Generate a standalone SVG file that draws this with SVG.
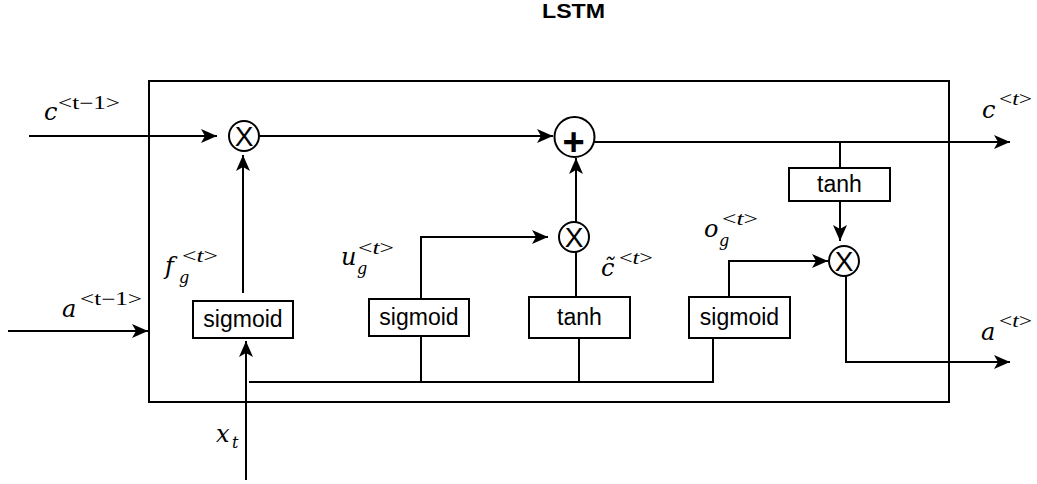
<svg xmlns="http://www.w3.org/2000/svg" width="1037" height="484" viewBox="0 0 1037 484">
  <defs>
    <marker id="arrow" markerUnits="userSpaceOnUse" markerWidth="20" markerHeight="18" viewBox="-17 -9 18 18" refX="0" refY="0" orient="auto">
      <path d="M0,0 L-16,-7 L-12,0 L-16,7 Z" fill="#000"/>
    </marker>
    <style>
      .wire { fill: none; stroke: #000; stroke-width: 2; }
      .arr { marker-end: url(#arrow); }
      .box { fill: #fff; stroke: #000; stroke-width: 2; }
      .op { fill: #fff; stroke: #000; stroke-width: 2; }
      .lbl { font-family: "Liberation Sans", Arial, sans-serif; font-size: 23px; fill: #000; text-anchor: middle; }
      .sym { font-family: "Liberation Sans", Arial, sans-serif; fill: #000; text-anchor: middle; }
      .math { font-family: "DejaVu Serif", "Liberation Serif", serif; font-style: italic; font-size: 24px; fill: #000; }
      .sup { font-family: "Liberation Serif", "Times New Roman", serif; font-style: normal; font-size: 18px; fill: #000; }
      .sub { font-family: "DejaVu Serif", "Liberation Serif", serif; font-style: italic; font-size: 16px; fill: #000; }
      .title { font-family: "Liberation Sans", Arial, sans-serif; font-weight: bold; font-size: 20px; fill: #000; text-anchor: middle; }
    </style>
  </defs>

  <rect width="1037" height="484" fill="#fff"/>

  <text class="title" x="573.5" y="18" textLength="63" lengthAdjust="spacingAndGlyphs">LSTM</text>

  <!-- cell boundary -->
  <rect id="cell" x="149" y="81" width="800" height="321" fill="none" stroke="#000" stroke-width="2"/>

  <!-- connectors -->
  <g id="connectors">
    <path class="wire arr" d="M29,136 L217,136"/>
    <path class="wire arr" d="M8,331 L148,331"/>
    <path class="wire arr" d="M243,293 L243,155"/>
    <path class="wire arr" d="M259,136 L553,136"/>
    <path class="wire arr" d="M594,142 L1010,142"/>
    <path class="wire" d="M840,142 L840,168"/>
    <path class="wire arr" d="M840,201 L840,241"/>
    <path class="wire arr" d="M576,222 L576,158"/>
    <path class="wire arr" d="M421,299 L421,237 L548,237"/>
    <path class="wire" d="M576,297 L576,252"/>
    <path class="wire arr" d="M729,297 L729,261 L828,261"/>
    <path class="wire arr" d="M846,276 L846,362 L1010,362"/>
    <path class="wire arr" d="M246,480 L246,341"/>
    <path class="wire" d="M249,382 L713,382 L713,338"/>
    <path class="wire" d="M421,336 L421,382"/>
    <path class="wire" d="M579,338 L579,382"/>
  </g>

  <!-- gates -->
  <g id="forget-sigmoid">
    <rect class="box" x="193" y="301" width="100" height="37"/>
    <text class="lbl" x="243" y="327">sigmoid</text>
  </g>
  <g id="update-sigmoid">
    <rect class="box" x="369" y="299" width="100" height="37"/>
    <text class="lbl" x="419" y="325">sigmoid</text>
  </g>
  <g id="candidate-tanh">
    <rect class="box" x="529" y="297" width="101" height="41"/>
    <text class="lbl" x="579.5" y="325">tanh</text>
  </g>
  <g id="output-sigmoid">
    <rect class="box" x="689" y="297" width="101" height="41"/>
    <text class="lbl" x="739.5" y="325">sigmoid</text>
  </g>
  <g id="cell-tanh">
    <rect class="box" x="789" y="168" width="101" height="33"/>
    <text class="lbl" x="839.5" y="192">tanh</text>
  </g>

  <!-- pointwise operations -->
  <g id="mul-forget">
    <circle class="op" cx="244" cy="136" r="15"/>
    <text class="sym" x="244" y="146" font-size="28">X</text>
  </g>
  <g id="add-cell">
    <circle class="op" cx="574.5" cy="137" r="20"/>
    <text class="sym" x="573.5" y="155" font-size="38" font-weight="bold">+</text>
  </g>
  <g id="mul-update">
    <circle class="op" cx="574" cy="237" r="15"/>
    <text class="sym" x="574" y="247" font-size="28">X</text>
  </g>
  <g id="mul-output">
    <circle class="op" cx="844" cy="261" r="15"/>
    <text class="sym" x="844" y="271" font-size="28">X</text>
  </g>

  <!-- math labels -->
  <g id="labels">
    <text class="math" x="44" y="120">c</text>
    <text class="sup" x="58" y="109" textLength="62" lengthAdjust="spacingAndGlyphs">&lt;t−1&gt;</text>

    <text class="math" x="62" y="317">a</text>
    <text class="sup" x="80" y="305" textLength="62" lengthAdjust="spacingAndGlyphs">&lt;t−1&gt;</text>

    <text class="math" x="165" y="274">f</text>
    <text class="sub" x="179" y="283">g</text>
    <text class="sup" x="182" y="262" textLength="36" lengthAdjust="spacingAndGlyphs">&lt;<tspan font-style="italic">t</tspan>&gt;</text>

    <text class="math" x="341" y="265">u</text>
    <text class="sub" x="357" y="274">g</text>
    <text class="sup" x="358" y="254" textLength="36" lengthAdjust="spacingAndGlyphs">&lt;<tspan font-style="italic">t</tspan>&gt;</text>

    <text class="math" x="601" y="276">c̃</text>
    <text class="sup" x="619" y="264" textLength="34" lengthAdjust="spacingAndGlyphs">&lt;<tspan font-style="italic">t</tspan>&gt;</text>

    <text class="math" x="704" y="237">o</text>
    <text class="sub" x="719" y="246">g</text>
    <text class="sup" x="722" y="225" textLength="36" lengthAdjust="spacingAndGlyphs">&lt;<tspan font-style="italic">t</tspan>&gt;</text>

    <text class="math" x="982" y="118">c</text>
    <text class="sup" x="999" y="105" textLength="33" lengthAdjust="spacingAndGlyphs">&lt;<tspan font-style="italic">t</tspan>&gt;</text>

    <text class="math" x="981" y="340">a</text>
    <text class="sup" x="999" y="327" textLength="33" lengthAdjust="spacingAndGlyphs">&lt;<tspan font-style="italic">t</tspan>&gt;</text>

    <text class="math" x="216" y="442">x</text>
    <text class="sub" x="232" y="448">t</text>
  </g>
</svg>
